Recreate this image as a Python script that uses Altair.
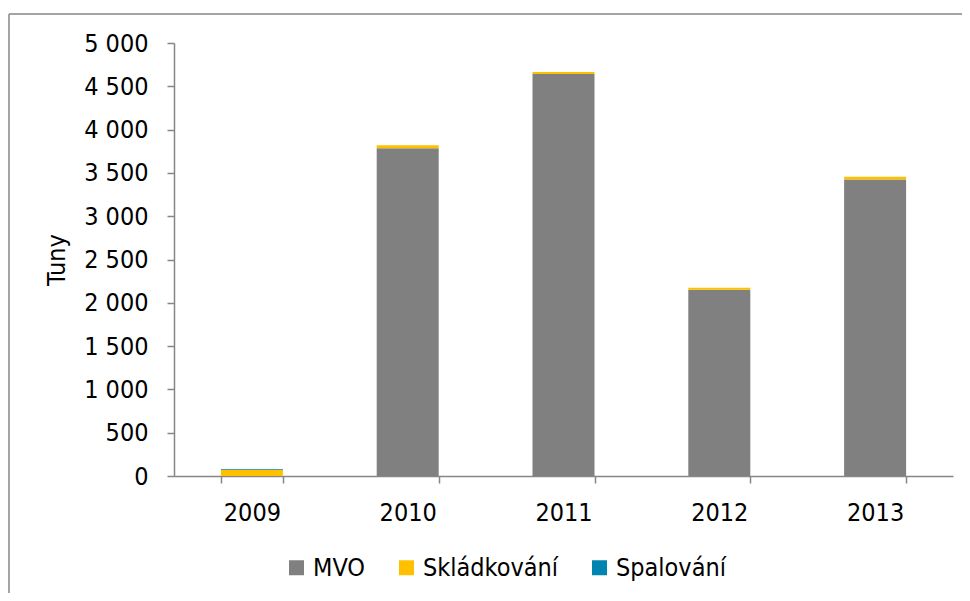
import altair as alt
import pandas as pd

years = ["2009", "2010", "2011", "2012", "2013"]
mvo = [0, 3785, 4642, 2152, 3424]
skladkovani = [72, 33, 23, 23, 32]
spalovani = [9, 0, 0, 0, 0]

series = ["MVO", "Skládkování", "Spalování"]
colors = ["#808080", "#FFC000", "#0084B0"]

rows = []
for i, y in enumerate(years):
    for k, (name, vals) in enumerate(zip(series, [mvo, skladkovani, spalovani])):
        rows.append({"rok": y, "typ": name, "hodnota": vals[i], "poradi": k})
df = pd.DataFrame(rows)

FONT = "DejaVu Sans Condensed"
AXIS_COLOR = "#868686"

W, H = 779, 433

bars = alt.Chart(df).mark_bar(size=62).encode(
    x=alt.X("rok:N", title=None,
            scale=alt.Scale(paddingInner=0.6, paddingOuter=0.3),
            axis=alt.Axis(labelAngle=0, tickBand="extent", labelPadding=17,
                          labelFontSize=25, tickSize=7)),
    y=alt.Y("hodnota:Q", title="Tuny", stack="zero",
            scale=alt.Scale(domain=[0, 5000], nice=False),
            axis=alt.Axis(values=list(range(0, 5001, 500)), format=",d",
                          labelFontSize=25, titleFontSize=25, titleFontWeight="normal",
                          titlePadding=14, labelPadding=19, tickSize=7, grid=False)),
    color=alt.Color("typ:N", title=None,
                    scale=alt.Scale(domain=series, range=colors),
                    legend=alt.Legend(orient="none", direction="horizontal",
                                      legendX=110, legendY=512, symbolType="square",
                                      symbolSize=225, symbolStrokeWidth=0,
                                      labelFontSize=25, labelOffset=4,
                                      columnPadding=28, labelLimit=300)),
    order=alt.Order("poradi:Q", sort="ascending"),
)

frame_df = pd.DataFrame({"k": [0]})
left_line = alt.Chart(frame_df).mark_rule(color=AXIS_COLOR, strokeWidth=1.5).encode(
    x=alt.value(-165), y=alt.value(-29), y2=alt.value(H + 130))
top_line = alt.Chart(frame_df).mark_rule(color=AXIS_COLOR, strokeWidth=1.5).encode(
    x=alt.value(-165), x2=alt.value(W + 20), y=alt.value(-29))

chart = alt.layer(bars, left_line, top_line).properties(
    width=W, height=H,
    autosize=alt.AutoSizeParams(type="none"),
    padding={"left": 166, "top": 35, "right": 9, "bottom": 117},
).configure(
    locale={"number": {"decimal": ",", "thousands": "\u00a0", "grouping": [3], "currency": ["", " Kč"]}},
).configure_axis(
    labelFont=FONT, titleFont=FONT, labelColor="#000000", titleColor="#000000",
    domainColor=AXIS_COLOR, tickColor=AXIS_COLOR, domainWidth=1.5, tickWidth=1.5,
).configure_legend(
    labelFont=FONT, labelColor="#000000",
).configure_view(stroke=None)

chart.save("out.html", embed_options={"renderer": "svg", "actions": False})
